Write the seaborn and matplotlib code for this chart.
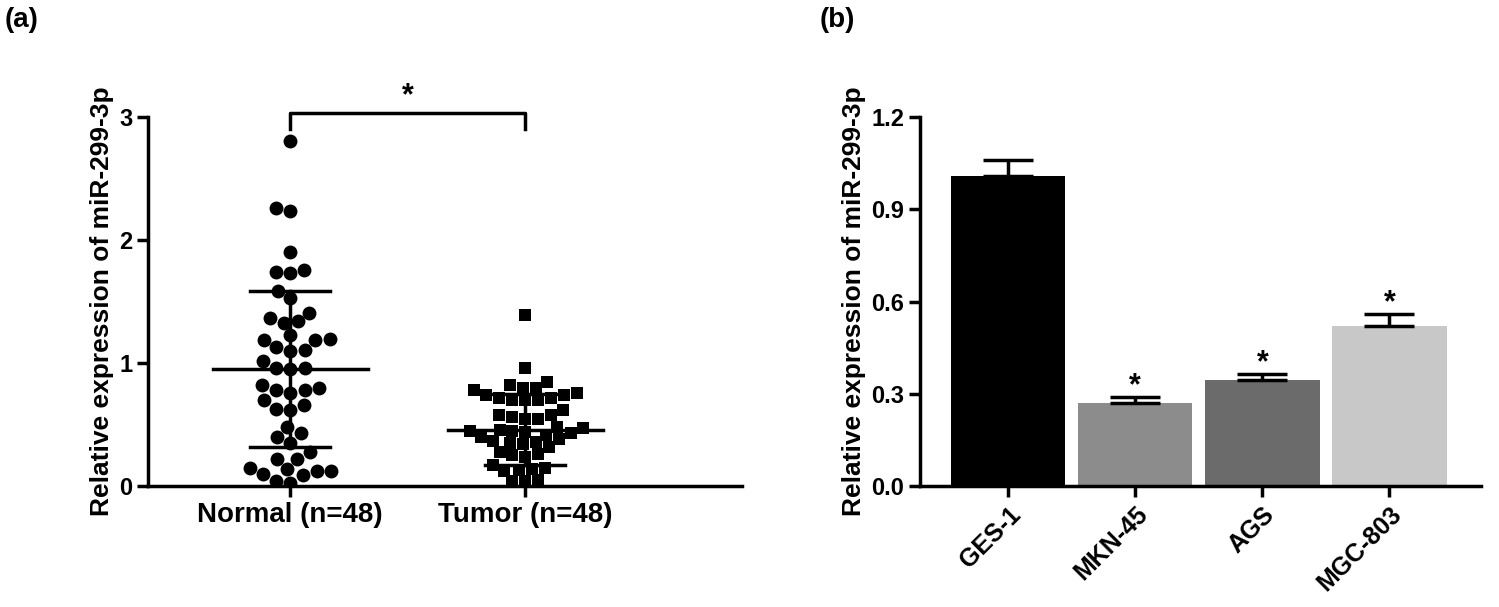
import numpy as np
import pandas as pd
import matplotlib
matplotlib.use("Agg")
import matplotlib.pyplot as plt
import seaborn as sns

plt.rcParams['font.family'] = 'Liberation Sans'
plt.rcParams['font.weight'] = 'bold'

normal = [2.81,2.24,2.26,1.90,1.76,1.73,1.74,1.59,1.53,1.41,1.37,1.33,1.34,1.23,1.19,1.19,1.20,1.13,1.11,1.10,
          1.02,0.96,0.95,0.96,0.82,0.80,0.78,0.78,0.76,0.70,0.66,0.63,0.62,0.48,0.43,0.40,0.35,0.28,
          0.22,0.22,0.14,0.12,0.12,0.10,0.09,0.03,0.04,0.15]
tumor = [1.39,0.96,0.85,0.82,0.80,0.80,0.78,0.76,0.74,0.74,0.72,0.72,0.70,0.70,0.70,0.62,0.58,0.58,0.56,0.55,0.55,
         0.48,0.47,0.46,0.45,0.45,0.44,0.43,0.42,0.40,0.38,0.37,0.36,0.35,0.34,0.32,0.28,0.26,0.25,0.24,0.17,
         0.15,0.14,0.13,0.12,0.05,0.04,0.04]
groups = ["Normal (n=48)", "Tumor (n=48)"]
means = [0.95, 0.46]
sds = [0.635, 0.29]

cells = ["GES-1", "MKN-45", "AGS", "MGC-803"]
bar_vals = [1.01, 0.27, 0.345, 0.52]
bar_err = [0.05, 0.02, 0.02, 0.04]
bar_colors = ["#000000", "#8c8c8c", "#6b6b6b", "#c8c8c8"]

fig = plt.figure(figsize=(14.99, 6.07), dpi=100)
ax1 = fig.add_axes([0.099, 0.199, 0.396, 0.608])
ax2 = fig.add_axes([0.614, 0.199, 0.374, 0.608])

df = pd.DataFrame({"g": [groups[0]]*len(normal) + [groups[1]]*len(tumor), "v": normal + tumor})
sns.swarmplot(data=df[df.g == groups[0]], x="g", y="v", order=groups, marker="o", color="black", size=10, ax=ax1)
sns.swarmplot(data=df[df.g == groups[1]], x="g", y="v", order=groups, marker="s", color="black", size=9, ax=ax1)
for i, (m, s) in enumerate(zip(means, sds)):
    ax1.plot([i-0.33, i+0.33], [m, m], color="black", lw=2.5)
    ax1.plot([i-0.17, i+0.17], [m+s, m+s], color="black", lw=2.5)
    ax1.plot([i-0.17, i+0.17], [m-s, m-s], color="black", lw=2.5)
    ax1.plot([i, i], [m-s, m+s], color="black", lw=2.5)
ax1.plot([0, 0, 1, 1], [2.9, 3.03, 3.03, 2.9], color="black", lw=2.5, clip_on=False)
ax1.text(0.5, 3.05, "*", ha="center", va="bottom", fontsize=22, fontweight="bold")
ax1.set_ylim(0, 3)
ax1.set_xlim(-0.604, 1.923)
ax1.set_yticks([0, 1, 2, 3])
ax1.set_ylabel("Relative expression of miR-299-3p", fontsize=19, fontweight="bold")
ax1.set_xlabel("")

sns.barplot(x=cells, y=bar_vals, palette=bar_colors, hue=cells, legend=False, width=0.9, ax=ax2)
for i in range(len(cells)):
    ax2.errorbar(i, bar_vals[i], yerr=[[0], [bar_err[i]]], color="black",
                 capsize=18, elinewidth=2.5, capthick=2.5)
    if i > 0:
        ax2.text(i, bar_vals[i] + bar_err[i] - 0.015, "*", ha="center", va="bottom", fontsize=22, fontweight="bold")
ax2.set_ylim(0, 1.2)
ax2.set_xlim(-0.69, 3.72)
ax2.set_yticks([0, 0.3, 0.6, 0.9, 1.2])
ax2.set_yticklabels(["0.0", "0.3", "0.6", "0.9", "1.2"])
ax2.set_ylabel("Relative expression of miR-299-3p", fontsize=19, fontweight="bold")
plt.setp(ax2.get_xticklabels(), rotation=45, ha="right", rotation_mode="anchor")

for ax in (ax1, ax2):
    sns.despine(ax=ax)
    for sp in ("left", "bottom"):
        ax.spines[sp].set_linewidth(2.5)
    ax.tick_params(width=2.5, length=8, labelsize=17)
    for t in ax.get_xticklabels() + ax.get_yticklabels():
        t.set_fontweight("bold")
ax1.tick_params(axis="x", labelsize=20)
ax2.tick_params(axis="x", labelsize=18)

fig.text(0.003, 0.955, "(a)", fontsize=20, fontweight="bold")
fig.text(0.547, 0.955, "(b)", fontsize=20, fontweight="bold")
fig.savefig("out.png", dpi=100)
